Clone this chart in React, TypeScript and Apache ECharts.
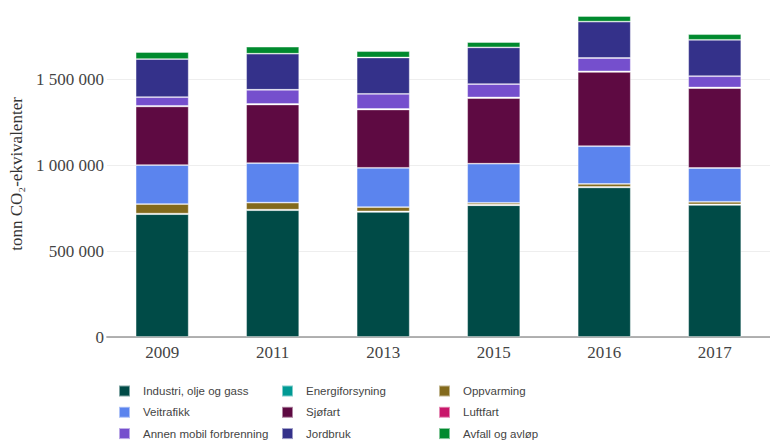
import React, { useEffect, useRef } from "react";
import * as echarts from "echarts";

const years = ["2009", "2011", "2013", "2015", "2016", "2017"];
const yTicks = [0, 500000, 1000000, 1500000];

const industri = [716000, 739000, 729000, 768000, 872000, 770000];
const energiforsyning = [3000, 3000, 3000, 3000, 3000, 3000];
const oppvarming = [56000, 41000, 25000, 11000, 17000, 15000];
const veitrafikk = [227000, 230000, 229000, 228000, 220000, 197000];
const sjofart = [342000, 342000, 340000, 383000, 433000, 466000];
const luftfart = [3000, 3000, 3000, 3000, 3000, 3000];
const annenMobil = [51000, 83000, 88000, 78000, 78000, 66000];
const jordbruk = [222000, 210000, 212000, 214000, 212000, 212000];
const avfall = [41000, 41000, 37000, 31000, 33000, 33000];

const seriesDefs = [
  { name: "Industri, olje og gass", data: industri, color: "#004B47" },
  { name: "Energiforsyning", data: energiforsyning, color: "#009A94" },
  { name: "Oppvarming", data: oppvarming, color: "#836A1C" },
  { name: "Veitrafikk", data: veitrafikk, color: "#5B84EE" },
  { name: "Sjøfart", data: sjofart, color: "#5E0A42" },
  { name: "Luftfart", data: luftfart, color: "#C8176A" },
  { name: "Annen mobil forbrenning", data: annenMobil, color: "#754FCD" },
  { name: "Jordbruk", data: jordbruk, color: "#34318A" },
  { name: "Avfall og avløp", data: avfall, color: "#008A2E" },
];

const legendCols = [
  { left: 118, names: ["Industri, olje og gass", "Veitrafikk", "Annen mobil forbrenning"] },
  { left: 281, names: ["Energiforsyning", "Sjøfart", "Jordbruk"] },
  { left: 438, names: ["Oppvarming", "Luftfart", "Avfall og avløp"] },
];

const fmt = (v: number) => String(v).replace(/\B(?=(\d{3})+(?!\d))/g, " ");

export default function App() {
  const ref = useRef<HTMLDivElement>(null);
  useEffect(() => {
    if (!ref.current) return;
    const chart = echarts.init(ref.current, undefined, { renderer: "svg" });
    chart.setOption({
      animation: false,
      backgroundColor: "#ffffff",
      grid: { left: 105, right: -11, top: 11, bottom: 104 },
      legend: legendCols.map((c) => ({
        orient: "vertical",
        left: c.left,
        top: 384,
        height: 80,
        padding: 0,
        itemWidth: 11,
        itemHeight: 11,
        itemGap: 7.3,
        icon: "rect",
        selectedMode: false,
        data: c.names,
        textStyle: {
          fontFamily: "'Liberation Sans', Arial, sans-serif",
          fontSize: 11.5,
          lineHeight: 14,
          color: "#444",
          padding: [0, 0, 0, 8],
        },
      })),
      xAxis: {
        type: "category",
        data: years,
        axisLine: { show: true, lineStyle: { color: "#999", width: 1.5 } },
        axisTick: { show: false },
        axisLabel: {
          margin: 7,
          fontFamily: "'Liberation Serif', 'Times New Roman', serif",
          fontSize: 17,
          color: "#444",
        },
      },
      yAxis: {
        type: "value",
        min: 0,
        max: 1900000,
        interval: 500000,
        name: "tonn CO₂-ekvivalenter",
        nameLocation: "middle",
        nameRotate: 90,
        nameGap: 76,
        nameTextStyle: {
          fontFamily: "'Liberation Serif', 'Times New Roman', serif",
          fontSize: 17,
          color: "#333",
        },
        axisLine: { show: false },
        axisTick: { show: false },
        splitLine: { show: true, showMaxLine: false, lineStyle: { color: "#eeeeee", width: 1 } },
        axisLabel: {
          showMaxLabel: false,
          margin: 3,
          fontFamily: "'Liberation Serif', 'Times New Roman', serif",
          fontSize: 17,
          color: "#444",
          formatter: (v: number) => (yTicks.includes(v) ? fmt(v) : ""),
        },
      },
      series: seriesDefs.map((s) => ({
        type: "bar",
        name: s.name,
        stack: "total",
        data: s.data,
        barWidth: "48%",
        itemStyle: {
          color: s.color,
          borderColor: "rgba(255,255,255,0.5)",
          borderWidth: 0.8,
        },
      })),
    });
    return () => chart.dispose();
  }, []);
  return (
    <div
      ref={ref}
      style={{ position: "fixed", left: 0, top: 0, width: 770, height: 441 }}
    />
  );
}
